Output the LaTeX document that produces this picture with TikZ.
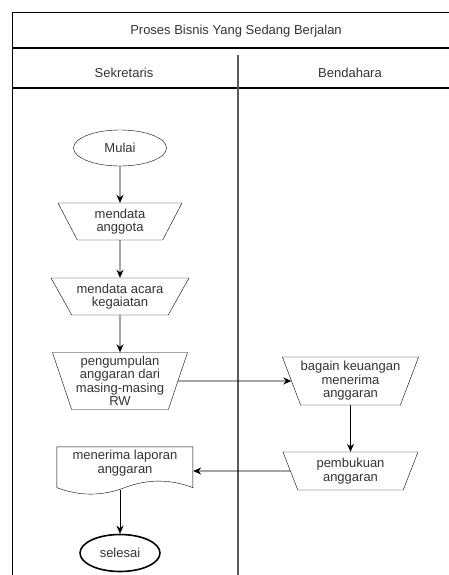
\documentclass[tikz,border=0pt]{standalone}
\usepackage{fontspec}
\setmainfont{Liberation Sans}
\usetikzlibrary{shapes.geometric,arrows.meta}
\definecolor{ink}{RGB}{51,51,51}
\definecolor{divider}{RGB}{90,90,90}
\begin{document}
\begin{tikzpicture}[x=1pt,y=-1pt,
  lbl/.style={font=\fontsize{13}{13.5}\selectfont, text=ink, align=center},
  term/.style={ellipse, draw, lbl, inner sep=0pt},
  manop/.style={trapezium, shape border rotate=180, trapezium stretches body,
                draw, lbl, inner sep=0pt},
  flow/.style={-{Stealth[length=8pt,width=7pt]}, line width=0.8pt},
  lane/.style={line width=1.2pt}]
\useasboundingbox (0,0) rectangle (449,575);

% pool frame and lane headers
\draw[lane] (12.5,575) -- (12.5,12.5) -- (449,12.5);
\draw[lane] (12.5,48) -- (449,48);
\draw[lane] (12.5,88) -- (449,88);
\draw[lane, draw=divider] (238,55) -- (238,575);
\node[lbl] (title) at (236,31) {Proses Bisnis Yang Sedang Berjalan};
\node[lbl] (lane1) at (124,73) {Sekretaris};
\node[lbl] (lane2) at (350,73) {Bendahara};

% Sekretaris lane
\node[term, minimum width=93, minimum height=36] (mulai) at (120,148) {Mulai};
\node[manop, minimum width=124, minimum height=37,
      trapezium left angle=53, trapezium right angle=53] (anggota) at (120,221.5)
      {mendata\\anggota};
\node[manop, minimum width=138, minimum height=37,
      trapezium left angle=51, trapezium right angle=51] (acara) at (120,296.5)
      {mendata acara\\kegaiatan};
\node[manop, minimum width=135, minimum height=57,
      trapezium left angle=69, trapezium right angle=69] (kumpul) at (120,381)
      {pengumpulan\\anggaran dari\\masing-masing\\RW};

% report document with wavy lower edge
\node[minimum width=136, minimum height=48, inner sep=0pt] (doc) at (125,471) {};
\draw[shift={(doc.north west)}] (0,0) -- (136,0) -- (136,40.8)
  .. controls (113.33,32.13) and (90.67,32.13) .. (68,40.8)
  .. controls (45.33,49.47) and (22.67,49.47) .. (0,40.8) -- cycle;
\node[lbl] (doctext) at (125,463) {menerima laporan\\anggaran};
\coordinate (docout) at (120,490);

\node[term, line width=1.6pt, minimum width=80, minimum height=37] (selesai) at (120,553) {selesai};

% Bendahara lane
\node[manop, minimum width=135, minimum height=48,
      trapezium left angle=65, trapezium right angle=65] (terima) at (350.5,381)
      {bagain keuangan\\menerima\\anggaran};
\node[manop, minimum width=135, minimum height=38,
      trapezium left angle=60, trapezium right angle=60] (buku) at (350.5,471)
      {pembukuan\\anggaran};

% connectors
\draw[flow] (mulai.south) -- (anggota.north);
\draw[flow] (anggota.south) -- (acara.north);
\draw[flow] (acara.south) -- (kumpul.north);
\draw[flow] (kumpul.east) -- (terima.west);
\draw[flow] (terima.south) -- (buku.north);
\draw[flow] (buku.west) -- (doc.east);
\draw[flow] (docout) -- (selesai.north);
\end{tikzpicture}
\end{document}
